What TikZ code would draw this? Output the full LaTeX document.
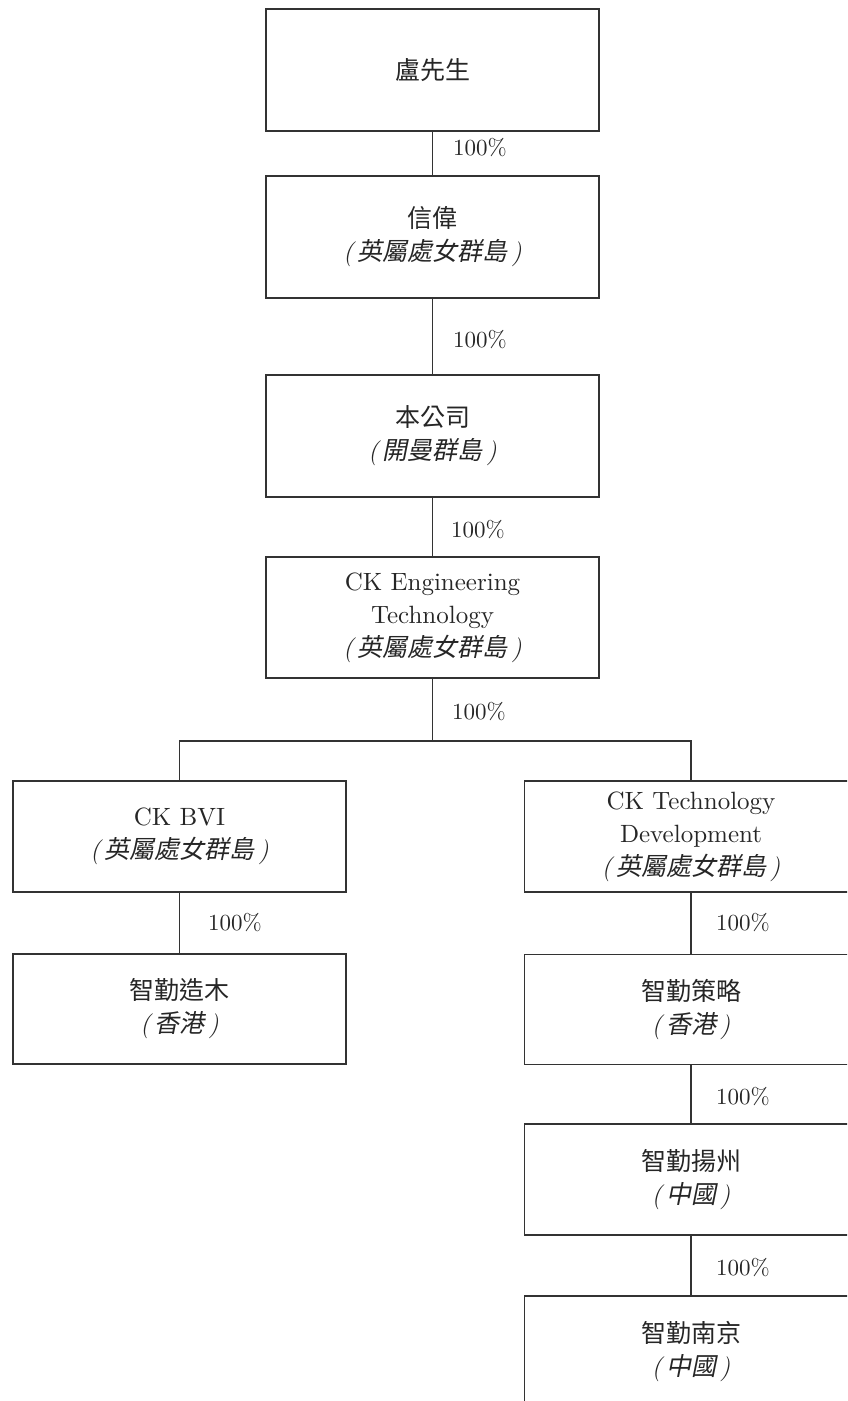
\documentclass[tikz,border=0pt]{standalone}
\usepackage{fontspec}
\setmainfont{lmroman10-regular}[Extension=.otf, ItalicFont=lmroman10-italic, BoldFont=lmroman10-bold]
\newfontfamily\cjk{Noto Sans CJK TC}
\newfontfamily\cjkit[FakeSlant=0.2]{Noto Sans CJK TC}
\newcommand{\loc}[1]{{\itshape(\,}{\cjkit #1}{\itshape\,)}}
\begin{document}
\begin{tikzpicture}[x=1pt,y=-1pt,
  box/.style={draw=black!80, line width=1.1pt, rectangle, minimum width=333pt,
    inner sep=0pt, align=center, text=black!85, font=\fontsize{25}{33}\selectfont},
  pct/.style={anchor=west, text=black!85, font=\fontsize{23}{28}\selectfont, inner sep=0pt},
  link/.style={draw=black!80, line width=1.1pt}]
\useasboundingbox (0,0) rectangle (847,1401);
\clip (0,0) rectangle (847,1401);
% boxes
\node[box, minimum height=122pt] (b1) at (432.5,70) {{\cjk 盧先生}};
\node[box, minimum height=122pt] (b2) at (432.5,237) {{\cjk 信偉}\\\loc{英屬處女群島}};
\node[box, minimum height=122pt] (b3) at (432.5,436) {{\cjk 本公司}\\\loc{開曼群島}};
\node[box, minimum height=121pt] (b4) at (432.5,617.5) {CK Engineering\\Technology\\\loc{英屬處女群島}};
\node[box, minimum height=111pt] (b5) at (179.5,836.5) {CK BVI\\\loc{英屬處女群島}};
\node[box, minimum height=111pt] (b6) at (691,836.5) {CK Technology\\Development\\\loc{英屬處女群島}};
\node[box, minimum height=110pt] (b7) at (179.5,1009) {{\cjk 智勤造木}\\\loc{香港}};
\node[box, minimum height=110pt] (b8) at (691,1009.5) {{\cjk 智勤策略}\\\loc{香港}};
\node[box, minimum height=111pt] (b9) at (691,1179.5) {{\cjk 智勤揚州}\\\loc{中國}};
\node[box, minimum height=111pt] (b10) at (691,1351.5) {{\cjk 智勤南京}\\\loc{中國}};
% connectors
\coordinate (j) at (432.5,741);
\draw[link] (b1) -- (b2);
\draw[link] (b2) -- (b3);
\draw[link] (b3) -- (b4);
\draw[link] (b4) -- (j);
\draw[link] (b5.north) |- (j) -| (b6.north);
\draw[link] (b5) -- (b7);
\draw[link] (b6) -- (b8);
\draw[link] (b8) -- (b9);
\draw[link] (b9) -- (b10);
% labels
\node[pct] (p1) at (453,148) {100\%};
\node[pct] (p2) at (453,340) {100\%};
\node[pct] (p3) at (451,530) {100\%};
\node[pct] (p4) at (452,712) {100\%};
\node[pct] (p5) at (208,923) {100\%};
\node[pct] (p6) at (716,923) {100\%};
\node[pct] (p7) at (716,1097) {100\%};
\node[pct] (p8) at (716,1268) {100\%};
\end{tikzpicture}
\end{document}
